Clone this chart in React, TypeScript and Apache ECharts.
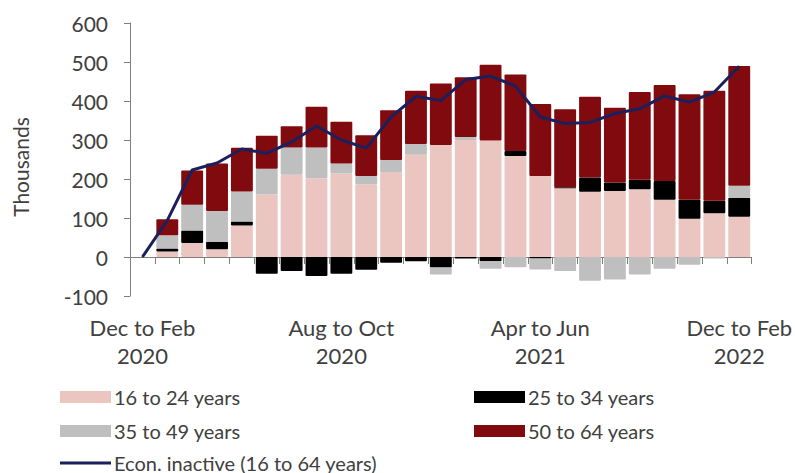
import React, { useEffect, useRef } from "react";
import * as echarts from "echarts";

const categories = [
  "Dec to Feb 2020", "Jan to Mar 2020", "Feb to Apr 2020", "Mar to May 2020", "Apr to Jun 2020",
  "May to Jul 2020", "Jun to Aug 2020", "Jul to Sep 2020", "Aug to Oct 2020", "Sep to Nov 2020",
  "Oct to Dec 2020", "Nov to Jan 2021", "Dec to Feb 2021", "Jan to Mar 2021", "Feb to Apr 2021",
  "Mar to May 2021", "Apr to Jun 2021", "May to Jul 2021", "Jun to Aug 2021", "Jul to Sep 2021",
  "Aug to Oct 2021", "Sep to Nov 2021", "Oct to Dec 2021", "Nov to Jan 2022", "Dec to Feb 2022",
];

const age16to24 = [0, 14, 36, 20, 81, 160, 211, 202, 214, 186, 218, 262, 287, 300, 299, 259, 208, 176, 167, 169, 174, 147, 98, 112, 103];
const age25to34 = [0, 8, 32, 19, 10, -43, -36, -49, -43, -33, -15, -11, -27, -4, -11, 13, -4, 3, 37, 22, 24, 48, 49, 32, 49];
const age35to49 = [0, 34, 66, 79, 77, 66, 70, 79, 26, 22, 31, 28, -18, 8, -19, -26, -28, -36, -61, -58, -45, -30, -20, -4, 31];
const age50to64 = [0, 41, 88, 122, 112, 85, 54, 104, 107, 104, 127, 136, 158, 153, 194, 196, 184, 200, 207, 192, 225, 246, 270, 282, 307];
const econInactive = [0, 94, 223, 241, 277, 266, 295, 336, 300, 279, 359, 412, 401, 455, 464, 438, 359, 342, 345, 368, 380, 413, 397, 423, 489];

const FONT = "Lato";
const TXT = "#404040";
const AXIS = "#7f7f7f";

export default function App() {
  const ref = useRef<HTMLDivElement>(null);
  useEffect(() => {
    document.body.style.margin = "0";
    const chart = echarts.init(ref.current!, null, { renderer: "svg" });
    const barSeries = (name: string, data: number[], color: string) => ({
      name,
      type: "bar",
      stack: "total",
      data,
      barCategoryGap: "12%",
      itemStyle: { color, borderRadius: 1 },
    });
    const legendItem = (name: string, left: number, top: number, line = false) => ({
      left,
      top,
      padding: 0,
      selectedMode: false,
      itemWidth: 51,
      itemHeight: line ? 3 : 12,
      itemGap: 0,
      icon: "rect",
      textStyle: { fontFamily: FONT, fontSize: 20, color: TXT, padding: [0, 0, 0, -2] },
      data: [{ name }],
    });
    chart.setOption({
      animation: false,
      textStyle: { fontFamily: FONT },
      grid: { left: 130, right: 40, top: 23, bottom: 177 },
      legend: [
        legendItem("16 to 24 years", 60, 387),
        legendItem("25 to 34 years", 474, 387),
        legendItem("35 to 49 years", 60, 421),
        legendItem("50 to 64 years", 474, 421),
        legendItem("Econ. inactive (16 to 64 years)", 60, 453, true),
      ],
      xAxis: {
        type: "category",
        data: categories,
        axisLine: { onZero: true, lineStyle: { color: AXIS, width: 1 } },
        axisTick: { show: true, interval: 0, length: 7, lineStyle: { color: AXIS } },
        axisLabel: {
          interval: 7,
          margin: 17,
          fontFamily: FONT,
          fontSize: 22,
          lineHeight: 28,
          color: TXT,
          formatter: (v: string) => v.replace(/ (\d{4})$/, "\n$1"),
        },
      },
      yAxis: {
        type: "value",
        min: -100,
        max: 600,
        interval: 100,
        splitLine: { show: false },
        axisLine: { show: true, lineStyle: { color: AXIS, width: 1 } },
        axisTick: { show: true, length: 6, lineStyle: { color: AXIS } },
        axisLabel: { margin: 22, fontFamily: FONT, fontSize: 21, color: TXT },
      },
      graphic: [
        {
          type: "text",
          x: 20,
          y: 167,
          rotation: Math.PI / 2,
          style: {
            text: "Thousands",
            fontFamily: FONT,
            fontSize: 21,
            fill: TXT,
            textAlign: "center",
            textVerticalAlign: "middle",
          },
        },
      ],
      series: [
        barSeries("16 to 24 years", age16to24, "#EBC6C1"),
        barSeries("25 to 34 years", age25to34, "#000000"),
        barSeries("35 to 49 years", age35to49, "#BFBFBF"),
        barSeries("50 to 64 years", age50to64, "#800A0E"),
        {
          name: "Econ. inactive (16 to 64 years)",
          type: "line",
          data: econInactive,
          showSymbol: false,
          symbol: "none",
          z: 5,
          lineStyle: { color: "#1B1F5C", width: 3 },
          itemStyle: { color: "#1B1F5C" },
        },
      ],
    });
    return () => chart.dispose();
  }, []);
  return <div ref={ref} style={{ width: 795, height: 473 }} />;
}
